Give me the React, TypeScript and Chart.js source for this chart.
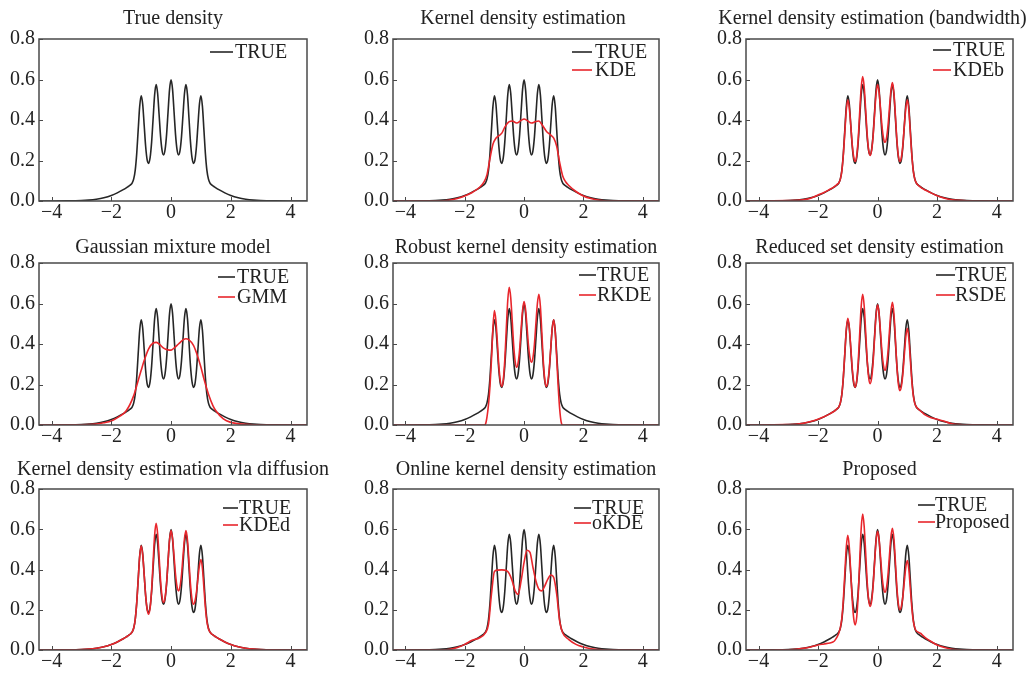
import React, { useEffect, useRef } from 'react';
import { Chart, registerables } from 'chart.js';

Chart.register(...registerables);

// ---------- data ----------
const X_GRID = [
  -4.5, -4, -3.5, -3, -2.75, -2.5, -2.25, -2, -1.8, -1.6,
  -1.5, -1.45, -1.4, -1.35, -1.3, -1.25, -1.2, -1.15, -1.1, -1.05,
  -1, -0.95, -0.9, -0.85, -0.8, -0.75, -0.7, -0.65, -0.6, -0.55,
  -0.5, -0.45, -0.4, -0.35, -0.3, -0.25, -0.2, -0.15, -0.1, -0.05,
  0,
  0.05, 0.1, 0.15, 0.2, 0.25, 0.3, 0.35, 0.4, 0.45, 0.5,
  0.55, 0.6, 0.65, 0.7, 0.75, 0.8, 0.85, 0.9, 0.95, 1,
  1.05, 1.1, 1.15, 1.2, 1.25, 1.3, 1.35, 1.4, 1.45, 1.5,
  1.6, 1.8, 2, 2.25, 2.5, 2.75, 3, 3.5, 4, 4.6,
];

const TRUE_Y = [
  0, 0.0001, 0.0004, 0.002, 0.0045, 0.009, 0.016, 0.027, 0.04, 0.056,
  0.065, 0.07, 0.075, 0.081, 0.09, 0.109, 0.151, 0.233, 0.351, 0.467,
  0.52, 0.479, 0.375, 0.269, 0.203, 0.186, 0.215, 0.292, 0.409, 0.524,
  0.575, 0.532, 0.426, 0.318, 0.249, 0.228, 0.254, 0.328, 0.441, 0.551,
  0.598,
  0.551, 0.441, 0.328, 0.254, 0.228, 0.249, 0.318, 0.426, 0.532, 0.575,
  0.524, 0.409, 0.292, 0.215, 0.186, 0.203, 0.269, 0.375, 0.479, 0.52,
  0.467, 0.351, 0.233, 0.151, 0.109, 0.09, 0.081, 0.075, 0.07, 0.065,
  0.056, 0.04, 0.027, 0.016, 0.009, 0.0045, 0.002, 0.0004, 0.0001, 0,
];

const KDEB_Y = [
  0, 0, 0.0005, 0.002, 0.003, 0.006, 0.014, 0.03, 0.042, 0.058,
  0.066, 0.071, 0.077, 0.083, 0.09, 0.108, 0.148, 0.227, 0.339, 0.45,
  0.5, 0.46, 0.372, 0.277, 0.216, 0.195, 0.224, 0.308, 0.439, 0.56,
  0.615, 0.564, 0.451, 0.33, 0.252, 0.225, 0.25, 0.32, 0.428, 0.53,
  0.575,
  0.538, 0.455, 0.367, 0.31, 0.29, 0.311, 0.37, 0.461, 0.547, 0.585,
  0.534, 0.421, 0.3, 0.222, 0.195, 0.216, 0.277, 0.372, 0.46, 0.5,
  0.45, 0.339, 0.227, 0.148, 0.108, 0.09, 0.08, 0.073, 0.068, 0.062,
  0.054, 0.04, 0.026, 0.014, 0.006, 0.003, 0.001, 0, 0, 0,
];

const RKDE_Y = [
  0, 0, 0, 0, 0, 0, 0, 0, 0, 0,
  0, 0, 0, 0, 0.005, 0.04, 0.1, 0.19, 0.32, 0.48,
  0.565, 0.516, 0.408, 0.291, 0.216, 0.19, 0.224, 0.322, 0.474, 0.616,
  0.68, 0.629, 0.514, 0.392, 0.313, 0.285, 0.308, 0.373, 0.474, 0.568,
  0.61,
  0.571, 0.484, 0.391, 0.331, 0.31, 0.333, 0.4, 0.504, 0.601, 0.645,
  0.586, 0.454, 0.313, 0.222, 0.19, 0.213, 0.279, 0.381, 0.477, 0.52,
  0.46, 0.33, 0.19, 0.08, 0.015, 0, 0, 0, 0, 0,
  0, 0, 0, 0, 0, 0, 0, 0, 0, 0,
];

const RSDE_Y = [
  0, 0, 0.0005, 0.002, 0.003, 0.008, 0.017, 0.029, 0.041, 0.055,
  0.064, 0.069, 0.075, 0.082, 0.09, 0.109, 0.152, 0.236, 0.355, 0.473,
  0.527, 0.483, 0.384, 0.279, 0.211, 0.187, 0.219, 0.311, 0.453, 0.586,
  0.646, 0.589, 0.46, 0.323, 0.235, 0.204, 0.231, 0.309, 0.43, 0.542,
  0.593,
  0.551, 0.457, 0.357, 0.293, 0.27, 0.294, 0.361, 0.465, 0.562, 0.606,
  0.549, 0.423, 0.288, 0.201, 0.17, 0.191, 0.253, 0.348, 0.437, 0.477,
  0.429, 0.325, 0.219, 0.145, 0.107, 0.09, 0.082, 0.075, 0.068, 0.062,
  0.05, 0.036, 0.028, 0.018, 0.006, 0.002, 0.0005, 0, 0, 0,
];

const KDED_Y = [
  0, 0, 0.0004, 0.002, 0.0045, 0.009, 0.016, 0.027, 0.04, 0.056,
  0.065, 0.07, 0.075, 0.081, 0.09, 0.109, 0.151, 0.233, 0.35, 0.465,
  0.518, 0.474, 0.375, 0.27, 0.202, 0.178, 0.21, 0.3, 0.44, 0.57,
  0.629, 0.578, 0.464, 0.342, 0.264, 0.236, 0.261, 0.332, 0.443, 0.547,
  0.593,
  0.554, 0.467, 0.375, 0.315, 0.294, 0.315, 0.375, 0.467, 0.554, 0.593,
  0.545, 0.439, 0.326, 0.253, 0.227, 0.243, 0.287, 0.356, 0.421, 0.45,
  0.406, 0.309, 0.21, 0.141, 0.106, 0.09, 0.081, 0.075, 0.07, 0.065,
  0.056, 0.04, 0.027, 0.016, 0.009, 0.0045, 0.002, 0.0004, 0, 0,
];

const PROPOSED_Y = [
  0, 0, 0.0003, 0.001, 0.003, 0.008, 0.015, 0.025, 0.03, 0.035,
  0.04, 0.045, 0.055, 0.068, 0.085, 0.111, 0.158, 0.25, 0.381, 0.511,
  0.57, 0.512, 0.383, 0.245, 0.156, 0.125, 0.164, 0.274, 0.444, 0.604,
  0.675, 0.615, 0.483, 0.341, 0.249, 0.217, 0.243, 0.318, 0.433, 0.542,
  0.59,
  0.551, 0.463, 0.369, 0.308, 0.287, 0.309, 0.373, 0.471, 0.564, 0.605,
  0.552, 0.435, 0.309, 0.228, 0.2, 0.217, 0.266, 0.342, 0.413, 0.445,
  0.402, 0.307, 0.212, 0.145, 0.11, 0.095, 0.09, 0.086, 0.082, 0.075,
  0.062, 0.042, 0.025, 0.012, 0.004, 0.001, 0, 0, 0, 0,
];

const KDE_X = [
  -4.5, -2.8, -2.5, -2.25, -2, -1.75, -1.5, -1.35, -1.25, -1.15,
  -1.05, -0.95, -0.85, -0.75, -0.65, -0.5, -0.4, -0.25, -0.1, 0,
  0.1, 0.25, 0.4, 0.5, 0.6, 0.75, 0.9, 1, 1.1, 1.2,
  1.3, 1.4, 1.5, 1.75, 2, 2.25, 2.5, 2.8, 4.6,
];
const KDE_Y = [
  0, 0, 0.005, 0.012, 0.025, 0.042, 0.068, 0.095, 0.13, 0.21,
  0.28, 0.31, 0.322, 0.335, 0.365, 0.392, 0.395, 0.385, 0.398, 0.405,
  0.398, 0.385, 0.393, 0.395, 0.378, 0.345, 0.325, 0.31, 0.27, 0.19,
  0.125, 0.095, 0.078, 0.047, 0.025, 0.012, 0.005, 0, 0,
];

const GMM_X = [
  -4.5, -3, -2.5, -2.25, -2, -1.75, -1.5, -1.25, -1.1, -1,
  -0.9, -0.75, -0.6, -0.5, -0.4, -0.25, -0.1, 0, 0.1, 0.25,
  0.4, 0.5, 0.6, 0.75, 0.9, 1, 1.1, 1.25, 1.4, 1.5,
  1.75, 2, 2.5, 3, 4.6,
];
const GMM_Y = [
  0, 0.001, 0.005, 0.011, 0.02, 0.04, 0.07, 0.145, 0.22, 0.27,
  0.318, 0.376, 0.405, 0.408, 0.4, 0.38, 0.371, 0.37, 0.38, 0.4,
  0.42, 0.426, 0.42, 0.393, 0.335, 0.285, 0.228, 0.153, 0.096, 0.07,
  0.03, 0.013, 0.003, 0, 0,
];

const OKDE_X = [
  -4.5, -2.75, -2.5, -2.25, -2, -1.75, -1.5, -1.3, -1.2, -1.1,
  -1, -0.9, -0.75, -0.6, -0.5, -0.4, -0.3, -0.2, -0.1, 0,
  0.1, 0.2, 0.3, 0.4, 0.5, 0.6, 0.7, 0.8, 0.9, 1,
  1.1, 1.2, 1.3, 1.5, 1.75, 2, 2.25, 2.5, 2.75, 4.6,
];
const OKDE_Y = [
  0, 0, 0.003, 0.012, 0.028, 0.048, 0.061, 0.086, 0.128, 0.277,
  0.39, 0.397, 0.398, 0.395, 0.38, 0.343, 0.294, 0.277, 0.343, 0.435,
  0.496, 0.485, 0.41, 0.343, 0.302, 0.294, 0.319, 0.352, 0.373, 0.36,
  0.277, 0.144, 0.086, 0.053, 0.028, 0.015, 0.006, 0.002, 0, 0,
];

const X_TICKS = [-4, -2, 0, 2, 4];
const Y_TICKS = [0, 0.2, 0.4, 0.6, 0.8];

const TITLES = [
  'True density',
  'Kernel density estimation',
  'Kernel density estimation (bandwidth)',
  'Gaussian mixture model',
  'Robust kernel density estimation',
  'Reduced set density estimation',
  'Kernel density estimation vla diffusion',
  'Online kernel density estimation',
  'Proposed',
];

const EST_LABELS = [null, 'KDE', 'KDEb', 'GMM', 'RKDE', 'RSDE', 'KDEd', 'oKDE', 'Proposed'];
const EST_X = [null, KDE_X, X_GRID, GMM_X, X_GRID, X_GRID, X_GRID, OKDE_X, X_GRID];
const EST_Y = [null, KDE_Y, KDEB_Y, GMM_Y, RKDE_Y, RSDE_Y, KDED_Y, OKDE_Y, PROPOSED_Y];

// ---------- layout / style ----------
const FONT = '"Liberation Serif", "Times New Roman", Times, serif';
const TITLE_SIZE = 20;
const TICK_SIZE = 20;
const LEGEND_SIZE = 20;
const BLACK = '#262626';
const RED = '#e8262c';
const LINE_W = 1.6;

const COL_LEFT = [0, 344, 688];
const ROW_TOP = [0, 224, 448];
const ROW_H = [224, 224, 225];
const AREA_LEFT = [39, 49, 58];
const PAD_RIGHT = [37, 29, 19];
const AREA_TOP = [39, 39, 41];
const X_AXIS_H = 23;
const TITLE_Y = [19, 24, 22];
const TITLE_DX = [0, -3, -7, 0, 0, 0, 0, 0, 0];

// legend: text offset from plot right, line length, gap, first-row offset, row step
const LEGEND = [
  { tx: 72, len: 23, gap: 2, y0: 13, step: 18 },
  { tx: 64, len: 20, gap: 3, y0: 13, step: 18 },
  { tx: 60, len: 18, gap: 2, y0: 11, step: 20 },
  { tx: 70, len: 17, gap: 2, y0: 14, step: 20 },
  { tx: 62, len: 17, gap: 1, y0: 12, step: 20 },
  { tx: 58, len: 19, gap: 0, y0: 12, step: 20 },
  { tx: 68, len: 15, gap: 1, y0: 19, step: 17 },
  { tx: 67, len: 17, gap: 1, y0: 19, step: 15 },
  { tx: 78, len: 17, gap: 0, y0: 16, step: 17 },
];

const toPoints = (xs: number[], ys: number[]) => xs.map((x, i) => ({ x, y: ys[i] }));

function Panel({ index }: { index: number }) {
  const ref = useRef<HTMLCanvasElement | null>(null);
  const row = Math.floor(index / 3);
  const col = index % 3;
  const width = 344;
  const height = ROW_H[row];

  useEffect(() => {
    if (!ref.current) return;
    const datasets: any[] = [
      {
        label: 'TRUE',
        data: toPoints(X_GRID, TRUE_Y),
        borderColor: BLACK,
        borderWidth: LINE_W,
        pointRadius: 0,
        cubicInterpolationMode: 'monotone',
        order: 1,
      },
    ];
    const lbl = EST_LABELS[index];
    if (lbl) {
      datasets.push({
        label: lbl,
        data: toPoints(EST_X[index] as number[], EST_Y[index] as number[]),
        borderColor: RED,
        borderWidth: LINE_W,
        pointRadius: 0,
        cubicInterpolationMode: 'monotone',
        order: 0,
      });
    }
    const lg = LEGEND[index];
    const decorPlugin = {
      id: 'decor',
      afterDraw(chart: any) {
        const { ctx, chartArea } = chart;
        const { left, right, top, bottom } = chartArea;
        ctx.save();
        // frame
        ctx.strokeStyle = '#4a4a4a';
        ctx.lineWidth = 1.5;
        ctx.strokeRect(left, top, right - left, bottom - top);
        // inward ticks
        ctx.lineWidth = 1;
        const xs = chart.scales.x;
        const ys = chart.scales.y;
        X_TICKS.forEach((v) => {
          const px = Math.round(xs.getPixelForValue(v)) + 0.5;
          ctx.beginPath();
          ctx.moveTo(px, bottom);
          ctx.lineTo(px, bottom - 4);
          ctx.stroke();
        });
        Y_TICKS.forEach((v) => {
          const py = Math.round(ys.getPixelForValue(v)) + 0.5;
          ctx.beginPath();
          ctx.moveTo(left, py);
          ctx.lineTo(left + 4, py);
          ctx.stroke();
        });
        // title
        ctx.fillStyle = '#222';
        ctx.font = `${TITLE_SIZE}px ${FONT}`;
        ctx.textAlign = 'center';
        ctx.textBaseline = 'middle';
        ctx.fillText(TITLES[index], (left + right) / 2 + TITLE_DX[index], TITLE_Y[row]);
        // legend
        ctx.font = `${LEGEND_SIZE}px ${FONT}`;
        ctx.textAlign = 'left';
        chart.data.datasets.forEach((ds: any, i: number) => {
          const y = top + lg.y0 + i * lg.step;
          const tx = right - lg.tx;
          ctx.strokeStyle = ds.borderColor;
          ctx.lineWidth = 1.6;
          ctx.beginPath();
          ctx.moveTo(tx - lg.gap - lg.len, y);
          ctx.lineTo(tx - lg.gap, y);
          ctx.stroke();
          ctx.fillStyle = '#222';
          ctx.fillText(ds.label, tx, y + 1);
        });
        ctx.restore();
      },
    };

    const tickFont = { family: FONT, size: TICK_SIZE };
    const chart = new Chart(ref.current, {
      type: 'line',
      data: { datasets },
      plugins: [decorPlugin],
      options: {
        animation: false,
        responsive: false,
        maintainAspectRatio: false,
        layout: { padding: { left: 0, right: PAD_RIGHT[col], top: AREA_TOP[row], bottom: 0 } },
        plugins: { legend: { display: false }, tooltip: { enabled: false }, title: { display: false } },
        scales: {
          x: {
            type: 'linear',
            min: -4.42,
            max: 4.55,
            grid: { display: false, drawTicks: false },
            border: { display: false },
            afterBuildTicks: (s: any) => {
              s.ticks = X_TICKS.map((v) => ({ value: v }));
            },
            afterFit: (s: any) => {
              s.height = X_AXIS_H;
              s.paddingLeft = 0;
              s.paddingRight = 0;
              s.paddingTop = 0;
              s.paddingBottom = 0;
            },
            ticks: {
              font: tickFont,
              color: '#222',
              padding: 0,
              maxRotation: 0,
              autoSkip: false,
              callback: (v: any) => String(v).replace('-', '\u2212'),
            },
          },
          y: {
            type: 'linear',
            min: 0,
            max: 0.8,
            grid: { display: false, drawTicks: false },
            border: { display: false },
            afterBuildTicks: (s: any) => {
              s.ticks = Y_TICKS.map((v) => ({ value: v }));
            },
            afterFit: (s: any) => {
              s.width = AREA_LEFT[col];
              s.paddingLeft = 0;
              s.paddingRight = 0;
              s.paddingTop = 0;
              s.paddingBottom = 0;
            },
            ticks: {
              font: tickFont,
              color: '#222',
              padding: 4,
              autoSkip: false,
              callback: (v: any) => Number(v).toFixed(1),
            },
          },
        },
      } as any,
    });
    return () => chart.destroy();
  }, [index]);

  return (
    <canvas
      ref={ref}
      width={width}
      height={height}
      style={{
        position: 'absolute',
        left: COL_LEFT[col],
        top: ROW_TOP[row],
        width,
        height,
      }}
    />
  );
}

export default function App() {
  return (
    <div
      style={{
        position: 'absolute',
        left: 0,
        top: 0,
        width: 1032,
        height: 673,
        background: '#ffffff',
        overflow: 'hidden',
      }}
    >
      {TITLES.map((_, i) => (
        <Panel key={i} index={i} />
      ))}
    </div>
  );
}
